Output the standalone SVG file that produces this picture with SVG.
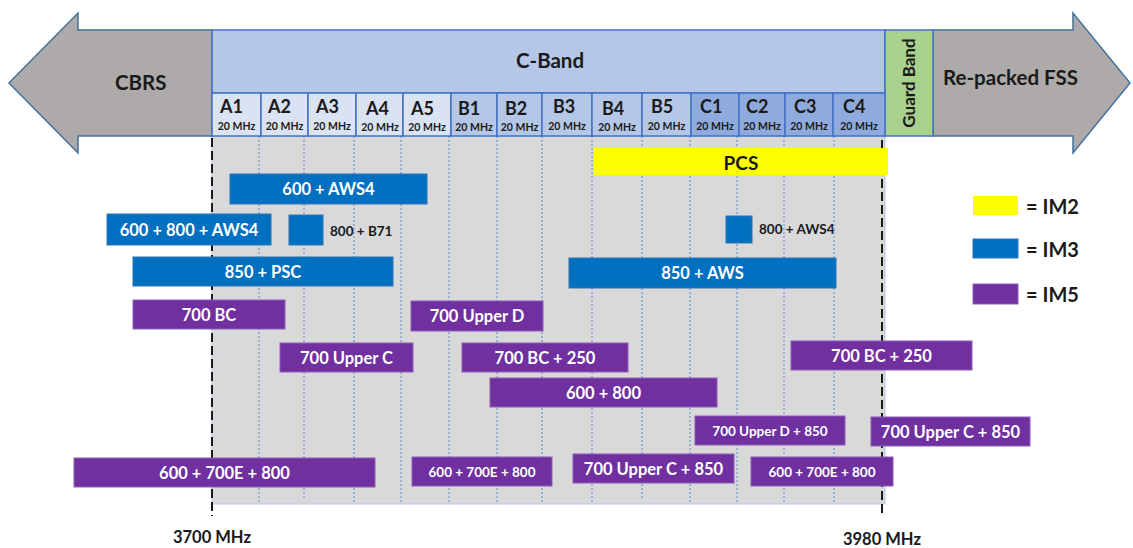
<svg xmlns="http://www.w3.org/2000/svg" width="1133" height="548" viewBox="0 0 1133 548">
<style>
  text { font-family: Lato, "Liberation Sans", sans-serif; font-weight: bold; }
  .arrow { fill: #AEAAAA; stroke: #41719C; stroke-width: 1.5; }
  .cband { fill: #B4C7E7; stroke: #4472C4; stroke-width: 1.5; }
  .cellA { fill: #DAE3F3; stroke: #4472C4; stroke-width: 1.5; }
  .cellB { fill: #B4C7E7; stroke: #4472C4; stroke-width: 1.5; }
  .cellC { fill: #8FAADC; stroke: #4472C4; stroke-width: 1.5; }
  .guard { fill: #A9D18E; stroke: #4472C4; stroke-width: 1.5; }
  .big { font-size: 20.5px; fill: #1a1a1a; }
  .ch { font-size: 18px; fill: #1a1a1a; }
  .mhz { font-size: 10.5px; fill: #1a1a1a; text-anchor: middle; }
  .grid { stroke: #4472C4; stroke-width: 1; stroke-dasharray: 2 2; opacity: 0.8; }
  .edge { stroke: #1a1a1a; stroke-width: 2; stroke-dasharray: 9 4; }
  .im2 { fill: #FFFF00; }
  .im3 { fill: #0070C0; stroke: #2E75B6; stroke-width: 1; }
  .im5 { fill: #7030A0; stroke: #8E5CB8; stroke-width: 1; }
  .lbl { font-size: 16.5px; fill: #ffffff; text-anchor: middle; dominant-baseline: central; }
  .lbls { font-size: 13.5px; fill: #ffffff; text-anchor: middle; dominant-baseline: central; }
  .blk { font-size: 13.5px; fill: #1a1a1a; dominant-baseline: central; }
  .leg { font-size: 20px; fill: #1a1a1a; dominant-baseline: central; }
  .freq { font-size: 16.5px; fill: #1a1a1a; text-anchor: middle; }
</style>

<!-- Background gray area with grid -->
<g id="plot-area">
  <rect x="212" y="136" width="673" height="368" fill="#D9D9D9" stroke="#B4C7E7" stroke-width="1"/>
  <g class="grid">
    <line x1="259" y1="136" x2="259" y2="504"/>
    <line x1="304" y1="136" x2="304" y2="500"/>
    <line x1="354" y1="136" x2="354" y2="504"/>
    <line x1="401" y1="136" x2="401" y2="504"/>
    <line x1="449" y1="136" x2="449" y2="504"/>
    <line x1="497" y1="136" x2="497" y2="504"/>
    <line x1="542" y1="136" x2="542" y2="504"/>
    <line x1="592" y1="136" x2="592" y2="504"/>
    <line x1="642" y1="136" x2="642" y2="500"/>
    <line x1="690" y1="136" x2="690" y2="504"/>
    <line x1="737" y1="136" x2="737" y2="504"/>
    <line x1="784" y1="136" x2="784" y2="504"/>
    <line x1="834" y1="136" x2="834" y2="504"/>
  </g>
  <line class="edge" x1="212" y1="138" x2="212" y2="516"/>
  <line class="edge" x1="882" y1="140" x2="882" y2="516"/>
</g>

<!-- CBRS arrow -->
<g id="cbrs">
  <polygon class="arrow" points="212,30 78,30 78,13 9,83 78,153 78,136 212,136"/>
  <text class="big" x="115" y="90">CBRS</text>
</g>

<!-- Re-packed FSS arrow -->
<g id="fss">
  <polygon class="arrow" points="933,30 1073,30 1073,13 1130,83 1073,153 1073,136 933,136"/>
  <text class="big" x="943" y="85">Re-packed FSS</text>
</g>

<!-- C-Band -->
<g id="c-band">
  <rect class="cband" x="212" y="30" width="673" height="63"/>
  <text class="big" x="550" y="68" text-anchor="middle">C-Band</text>
</g>

<!-- Guard band -->
<g id="guard-band">
  <rect class="guard" x="885" y="30" width="48" height="106"/>
  <text x="909" y="89" font-size="17" fill="#1a1a1a" text-anchor="middle" transform="rotate(-90 909 83)">Guard Band</text>
</g>

<!-- Channels -->
<g id="channels">
  <g id="ch-A1"><rect class="cellA" x="212" y="93" width="49" height="43"/><text class="ch" x="220" y="113">A1</text><text class="mhz" x="236.5" y="130">20 MHz</text></g>
  <g id="ch-A2"><rect class="cellA" x="261" y="93" width="47" height="43"/><text class="ch" x="268" y="113">A2</text><text class="mhz" x="284.5" y="130">20 MHz</text></g>
  <g id="ch-A3"><rect class="cellA" x="308" y="93" width="48" height="43"/><text class="ch" x="316" y="113">A3</text><text class="mhz" x="332" y="130">20 MHz</text></g>
  <g id="ch-A4"><rect class="cellA" x="356" y="93" width="47" height="43"/><text class="ch" x="366" y="115">A4</text><text class="mhz" x="380" y="131">20 MHz</text></g>
  <g id="ch-A5"><rect class="cellA" x="403" y="93" width="48" height="43"/><text class="ch" x="411" y="115">A5</text><text class="mhz" x="427" y="131">20 MHz</text></g>
  <g id="ch-B1"><rect class="cellB" x="451" y="93" width="46" height="43"/><text class="ch" x="458" y="115">B1</text><text class="mhz" x="474" y="131">20 MHz</text></g>
  <g id="ch-B2"><rect class="cellB" x="497" y="93" width="45" height="43"/><text class="ch" x="505" y="115">B2</text><text class="mhz" x="519.5" y="131">20 MHz</text></g>
  <g id="ch-B3"><rect class="cellB" x="542" y="93" width="50" height="43"/><text class="ch" x="553" y="113">B3</text><text class="mhz" x="567" y="130">20 MHz</text></g>
  <g id="ch-B4"><rect class="cellB" x="592" y="93" width="50" height="43"/><text class="ch" x="602" y="115">B4</text><text class="mhz" x="617" y="131">20 MHz</text></g>
  <g id="ch-B5"><rect class="cellB" x="642" y="93" width="49" height="43"/><text class="ch" x="651" y="113">B5</text><text class="mhz" x="666.5" y="130">20 MHz</text></g>
  <g id="ch-C1"><rect class="cellC" x="691" y="93" width="48" height="43"/><text class="ch" x="700" y="113">C1</text><text class="mhz" x="715" y="130">20 MHz</text></g>
  <g id="ch-C2"><rect class="cellC" x="739" y="93" width="46" height="43"/><text class="ch" x="746" y="113">C2</text><text class="mhz" x="762" y="130">20 MHz</text></g>
  <g id="ch-C3"><rect class="cellC" x="785" y="93" width="48" height="43"/><text class="ch" x="794" y="113">C3</text><text class="mhz" x="809" y="130">20 MHz</text></g>
  <g id="ch-C4"><rect class="cellC" x="833" y="93" width="52" height="43"/><text class="ch" x="843" y="113">C4</text><text class="mhz" x="859" y="130">20 MHz</text></g>
</g>

<!-- Bars -->
<g id="pcs"><rect class="im2" x="594" y="148" width="294" height="27"/><text x="741" y="162" font-size="19" fill="#1a1a1a" text-anchor="middle" dominant-baseline="central">PCS</text></g>

<g id="b-600-aws4"><rect class="im3" x="230" y="174" width="197" height="30"/><text class="lbl" x="328.5" y="189">600 + AWS4</text></g>
<g id="b-600-800-aws4"><rect class="im3" x="107" y="214" width="164" height="31"/><text class="lbl" x="189" y="229.5">600 + 800 + AWS4</text></g>
<g id="b-800-b71"><rect class="im3" x="289" y="215" width="34" height="30"/><text class="blk" x="330" y="231">800 + B71</text></g>
<g id="b-850-psc"><rect class="im3" x="133" y="257" width="260" height="29"/><text class="lbl" x="263" y="271.5">850 + PSC</text></g>
<g id="b-800-aws4"><rect class="im3" x="726" y="216" width="26" height="27"/><text class="blk" x="759" y="229">800 + AWS4</text></g>
<g id="b-850-aws"><rect class="im3" x="569" y="258" width="267" height="30"/><text class="lbl" x="702.5" y="273">850 + AWS</text></g>

<g id="b-700bc"><rect class="im5" x="133" y="300" width="152" height="29"/><text class="lbl" x="209" y="314.5">700 BC</text></g>
<g id="b-700-upper-d"><rect class="im5" x="411" y="301" width="132" height="30"/><text class="lbl" x="477" y="316">700 Upper D</text></g>
<g id="b-700-upper-c"><rect class="im5" x="280" y="343" width="133" height="29"/><text class="lbl" x="346.5" y="357.5">700 Upper C</text></g>
<g id="b-700bc-250-a"><rect class="im5" x="462" y="343" width="166" height="29"/><text class="lbl" x="545" y="357.5">700 BC + 250</text></g>
<g id="b-600-800"><rect class="im5" x="490" y="378" width="227" height="29"/><text class="lbl" x="603.5" y="392.5">600 + 800</text></g>
<g id="b-700bc-250-b"><rect class="im5" x="791" y="341" width="181" height="29"/><text class="lbl" x="881.5" y="355.5">700 BC + 250</text></g>
<g id="b-700-upper-d-850"><rect class="im5" x="695" y="416" width="150" height="29"/><text class="lbls" x="770" y="430.5">700 Upper D + 850</text></g>
<g id="b-700-upper-c-850-a"><rect class="im5" x="871" y="417" width="159" height="29"/><text class="lbl" x="950.5" y="431.5">700 Upper C + 850</text></g>
<g id="b-600-700e-800-a"><rect class="im5" x="74" y="458" width="301" height="29"/><text class="lbl" x="224.5" y="472.5">600 + 700E + 800</text></g>
<g id="b-600-700e-800-b"><rect class="im5" x="412" y="457" width="140" height="29"/><text class="lbls" x="482" y="471.5">600 + 700E + 800</text></g>
<g id="b-700-upper-c-850-b"><rect class="im5" x="573" y="454" width="161" height="29"/><text class="lbl" x="653.5" y="468.5">700 Upper C + 850</text></g>
<g id="b-600-700e-800-c"><rect class="im5" x="751" y="457" width="142" height="29"/><text class="lbls" x="822" y="471.5">600 + 700E + 800</text></g>

<!-- Legend -->
<g id="legend">
  <rect class="im2" x="973" y="196" width="45" height="19"/><text class="leg" x="1026" y="206">= IM2</text>
  <rect class="im3" x="973" y="239" width="45" height="19"/><text class="leg" x="1026" y="249">= IM3</text>
  <rect class="im5" x="973" y="284" width="45" height="20"/><text class="leg" x="1026" y="294">= IM5</text>
</g>

<!-- Frequency labels -->
<g id="freq-labels">
  <text class="freq" x="212" y="543">3700 MHz</text>
  <text class="freq" x="882" y="545">3980 MHz</text>
</g>
</svg>
